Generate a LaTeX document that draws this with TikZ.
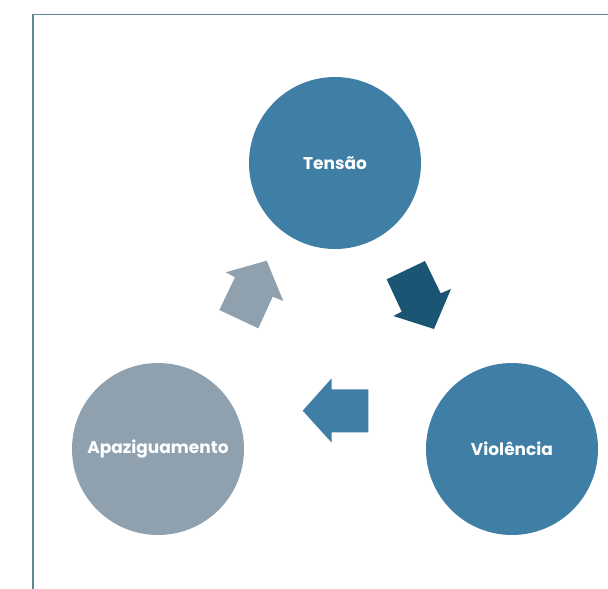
\documentclass[tikz,border=0pt]{standalone}
\usepackage{fontspec}
\setmainfont{Poppins}
\definecolor{cblue}{HTML}{3F7FA6}
\definecolor{cgray}{HTML}{8FA1AF}
\definecolor{cdark}{HTML}{1A5673}
\definecolor{cframe}{HTML}{5F8794}
\begin{document}
\begin{tikzpicture}[x=1pt,y=-1pt,
  stage/.style={circle,minimum size=172pt,inner sep=0pt,text=white,font=\bfseries\fontsize{17}{20}\selectfont}]
\useasboundingbox (0,0) rectangle (608,589);
\fill[white] (0,0) rectangle (608,589);
\draw[cframe,line width=1.6pt] (33,589) -- (33,14.5) -- (608,14.5);
\node[stage,fill=cblue] (tensao) at (335,163) {Tensão};
\node[stage,fill=cblue] (violencia) at (512,449) {Violência};
\node[stage,fill=cgray] (apaz) at (158,449) {Apaziguamento};
% arrows
\fill[cdark] (386.7,279.3) -- (425,261) -- (440.7,293.3) -- (451,289) -- (434,329) -- (393.3,316) -- (401.7,311.7) -- cycle;
\fill[cblue] (302.7,410.7) -- (331.7,378.3) -- (331.7,389.3) -- (368.3,389.3) -- (368.3,432.3) -- (331.7,432.3) -- (331.7,442.7) -- cycle;
\fill[cgray] (266.7,260.7) -- (283.3,301) -- (272.7,296.7) -- (258.3,328.3) -- (219.3,310) -- (235,277.3) -- (225.7,272.3) -- cycle;
\end{tikzpicture}
\end{document}
